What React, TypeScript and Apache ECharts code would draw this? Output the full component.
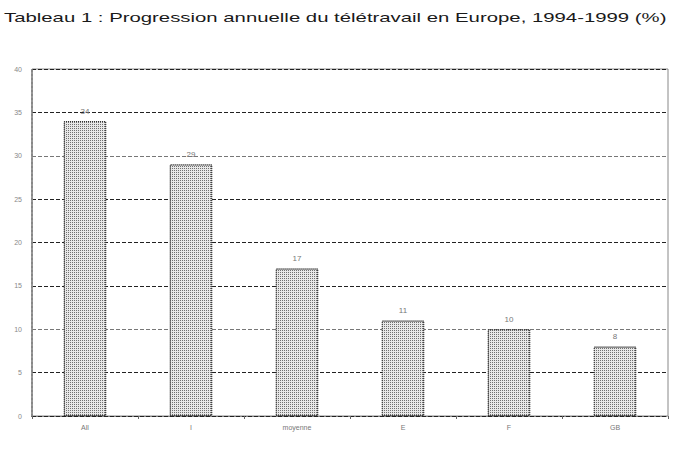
import React, { useEffect, useRef } from 'react';
import * as echarts from 'echarts';

const TITLE = 'Tableau 1 : Progression annuelle du télétravail en Europe, 1994-1999 (%)';
const countries = ['All', 'I', 'moyenne', 'E', 'F', 'GB'];
const growth = [34, 29, 17, 11, 10, 8];
const yTicks = [0, 5, 10, 15, 20, 25, 30, 35, 40];

const App: React.FC = () => {
  const ref = useRef<HTMLDivElement>(null);

  useEffect(() => {
    document.body.style.margin = '0';
    if (!ref.current) return;
    const chart = echarts.init(ref.current, undefined, { renderer: 'svg' });

    // stretch the title so it spans the chart width like the scanned original
    const ctx = document.createElement('canvas').getContext('2d');
    let titleScale = 1.5;
    if (ctx) {
      ctx.font = '12.5px "Liberation Sans"';
      const w = ctx.measureText(TITLE).width;
      if (w > 0) titleScale = 663 / w;
    }

    const option: echarts.EChartsCoreOption = {
      animation: false,
      backgroundColor: '#fff',
      graphic: [
        {
          type: 'text',
          x: 4,
          y: 11,
          scaleX: titleScale,
          style: {
            text: TITLE,
            font: '12.5px "Liberation Sans"',
            fill: '#1a1a1a'
          }
        }
      ],
      grid: {
        left: 32,
        right: 17,
        top: 69,
        bottom: 33,
        show: true,
        borderColor: '#888',
        borderWidth: 1
      },
      xAxis: {
        type: 'category',
        data: countries,
        axisLine: { lineStyle: { color: '#222', type: 'dashed' } },
        axisTick: { show: true, length: 3, lineStyle: { color: '#666' } },
        axisLabel: { fontSize: 7, color: '#777', fontFamily: 'Liberation Sans', margin: 8 }
      },
      yAxis: {
        type: 'value',
        min: 0,
        max: 40,
        interval: 5,
        axisLine: { show: true, lineStyle: { color: '#888', type: 'dotted', width: 2 } },
        axisTick: { show: false },
        axisLabel: {
          fontSize: 7,
          color: '#888',
          fontFamily: 'Liberation Sans',
          margin: 10,
          formatter: (v: number) => (yTicks.includes(v) ? String(v) : '')
        },
        splitLine: {
          lineStyle: {
            type: 'dashed',
            color: ['#222', '#222', '#777', '#222', '#222', '#222', '#777', '#222', '#222']
          }
        }
      },
      series: [
        {
          type: 'bar',
          data: growth,
          barWidth: '40%',
          itemStyle: {
            color: '#e8e8e8',
            borderColor: '#333',
            borderWidth: 1,
            borderType: 'dotted',
            decal: {
              symbol: 'rect',
              symbolSize: 1,
              dashArrayX: [1, 1],
              dashArrayY: [1, 1],
              rotation: 0,
              color: '#707070'
            }
          },
          label: {
            show: true,
            position: 'top',
            fontSize: 8,
            color: '#777',
            fontFamily: 'Liberation Sans',
            distance: 6
          }
        }
      ]
    };

    chart.setOption(option);
    return () => chart.dispose();
  }, []);

  return <div ref={ref} style={{ width: 685, height: 449 }} />;
};

export default App;
